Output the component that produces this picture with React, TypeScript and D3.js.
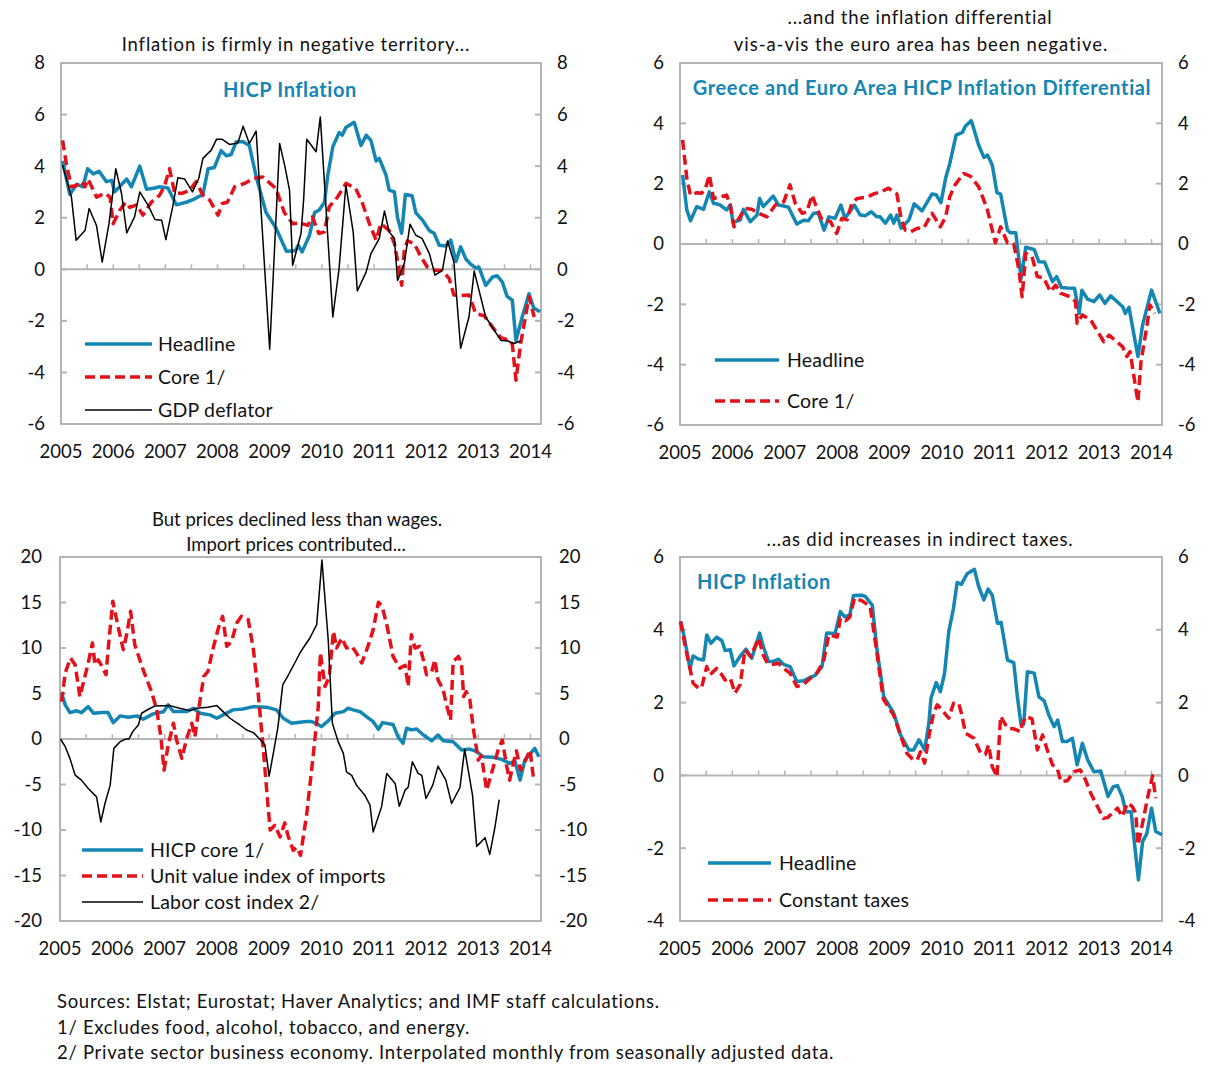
import React from "react";
import * as d3 from "d3";

// ---------- DATA (decimal year, value) ----------
const yearLabels = [2005, 2006, 2007, 2008, 2009, 2010, 2011, 2012, 2013, 2014];

const p1Headline: [number, number][] = [
  [2005.03,4.2],[2005.17,2.9],[2005.3,3.3],[2005.42,3.2],[2005.51,3.9],[2005.62,3.7],[2005.73,3.8],[2005.87,3.4],[2005.97,3.45],[2006.03,3.0],[2006.26,3.5],[2006.35,3.2],[2006.51,4.0],[2006.64,3.1],[2006.8,3.15],[2006.89,3.2],[2007.05,3.15],[2007.21,2.5],[2007.4,2.6],[2007.53,2.7],[2007.72,2.9],[2007.82,3.9],[2007.94,3.95],[2008.07,4.6],[2008.17,4.4],[2008.26,4.45],[2008.36,4.95],[2008.49,4.95],[2008.61,4.8],[2008.74,3.6],[2008.93,2.2],[2009.12,1.6],[2009.32,0.7],[2009.49,0.72],[2009.55,0.93],[2009.62,0.67],[2009.76,1.3],[2009.86,2.2],[2009.95,2.3],[2010.05,2.6],[2010.11,3.6],[2010.21,4.75],[2010.33,5.3],[2010.39,5.2],[2010.46,5.5],[2010.62,5.7],[2010.75,4.8],[2010.85,5.2],[2010.94,5.0],[2011.04,4.2],[2011.1,4.3],[2011.23,3.65],[2011.29,3.07],[2011.39,3.0],[2011.45,2.0],[2011.53,1.4],[2011.6,2.9],[2011.73,2.85],[2011.8,2.2],[2011.93,1.9],[2012.06,1.5],[2012.15,1.4],[2012.25,0.93],[2012.37,0.9],[2012.47,1.13],[2012.57,0.3],[2012.66,0.87],[2012.76,0.4],[2012.85,0.2],[2012.95,0.05],[2013.01,0.08],[2013.14,-0.62],[2013.27,-0.3],[2013.36,-0.25],[2013.46,-0.5],[2013.55,-1.05],[2013.65,-1.2],[2013.72,-2.76],[2013.84,-1.85],[2013.97,-0.95],[2014.06,-1.5],[2014.18,-1.65]
];
const p1Core: [number, number][] = [
  [2005.03,5.0],[2005.11,4.0],[2005.2,3.2],[2005.3,3.25],[2005.4,3.4],[2005.46,3.2],[2005.52,3.5],[2005.68,2.8],[2005.84,2.95],[2005.94,2.8],[2006.0,1.77],[2006.13,2.3],[2006.24,2.6],[2006.32,2.4],[2006.45,2.5],[2006.57,2.1],[2006.73,2.6],[2006.89,2.87],[2006.99,3.26],[2007.08,3.9],[2007.18,2.94],[2007.33,2.95],[2007.47,3.07],[2007.59,3.4],[2007.72,2.87],[2007.85,2.68],[2008.01,2.1],[2008.09,2.55],[2008.19,2.6],[2008.33,3.2],[2008.52,3.33],[2008.68,3.52],[2008.87,3.58],[2009.12,3.13],[2009.28,2.2],[2009.44,1.77],[2009.57,1.8],[2009.73,1.7],[2009.82,2.03],[2009.94,1.39],[2010.05,1.45],[2010.14,2.42],[2010.3,2.8],[2010.46,3.33],[2010.65,3.13],[2010.78,2.55],[2010.91,1.77],[2011.04,1.13],[2011.13,1.77],[2011.29,1.5],[2011.39,1.0],[2011.47,0.1],[2011.53,-0.62],[2011.58,0.74],[2011.64,1.1],[2011.77,1.0],[2011.9,0.48],[2012.02,0.09],[2012.18,-0.04],[2012.31,-0.05],[2012.44,-0.36],[2012.53,-1.0],[2012.67,-1.02],[2012.82,-1.0],[2012.95,-1.72],[2013.11,-1.8],[2013.27,-2.24],[2013.43,-2.65],[2013.59,-2.76],[2013.65,-2.9],[2013.72,-4.3],[2013.81,-2.88],[2013.97,-1.07],[2014.07,-1.85]
];
const p1Deflator: [number, number][] = [
  [2005.03,4.04],[2005.2,2.8],[2005.29,1.13],[2005.46,1.5],[2005.54,2.36],[2005.68,1.7],[2005.79,0.28],[2005.92,1.77],[2006.05,3.9],[2006.16,2.94],[2006.26,1.41],[2006.41,2.03],[2006.51,3.0],[2006.67,2.48],[2006.8,1.93],[2006.93,1.9],[2007.01,1.15],[2007.14,2.42],[2007.24,3.55],[2007.37,3.5],[2007.52,3.0],[2007.64,3.52],[2007.72,4.3],[2007.88,4.62],[2007.98,5.04],[2008.09,5.04],[2008.23,4.84],[2008.39,4.9],[2008.49,5.55],[2008.61,4.88],[2008.74,5.36],[2009.0,-3.1],[2009.19,4.88],[2009.29,4.0],[2009.38,3.07],[2009.44,0.15],[2009.6,1.39],[2009.65,2.68],[2009.71,5.04],[2009.89,4.56],[2009.97,5.91],[2010.21,-1.85],[2010.33,0.03],[2010.46,3.26],[2010.6,1.45],[2010.68,-0.84],[2010.85,-0.1],[2010.94,0.61],[2011.1,1.19],[2011.2,2.26],[2011.29,1.45],[2011.39,1.2],[2011.45,-0.43],[2011.58,0.22],[2011.69,1.75],[2011.8,1.32],[2011.92,1.2],[2012.06,0.61],[2012.17,-0.23],[2012.31,-0.04],[2012.41,1.1],[2012.53,0.28],[2012.66,-3.06],[2012.82,-1.85],[2012.92,-0.07],[2013.14,-1.85],[2013.43,-2.76],[2013.55,-2.77],[2013.68,-2.88],[2013.81,-2.78]
];

const p2Headline: [number, number][] = [
  [2005.05,2.29],[2005.13,1.13],[2005.2,0.77],[2005.32,1.24],[2005.45,1.15],[2005.56,1.73],[2005.64,1.35],[2005.76,1.3],[2005.89,1.13],[2005.96,1.3],[2006.01,0.71],[2006.15,0.8],[2006.21,1.15],[2006.34,0.74],[2006.47,0.96],[2006.52,1.51],[2006.59,1.24],[2006.78,1.59],[2006.88,1.29],[2006.98,1.26],[2007.07,1.22],[2007.23,0.66],[2007.36,0.79],[2007.45,0.77],[2007.55,1.02],[2007.64,1.02],[2007.75,0.46],[2007.84,0.9],[2007.96,0.85],[2008.07,1.29],[2008.15,0.85],[2008.33,1.29],[2008.44,0.96],[2008.54,0.94],[2008.65,1.07],[2008.76,0.9],[2008.82,0.9],[2008.92,0.69],[2009.02,0.96],[2009.08,0.69],[2009.14,0.96],[2009.22,0.52],[2009.37,0.8],[2009.47,1.33],[2009.62,1.1],[2009.81,1.66],[2009.89,1.63],[2009.98,1.37],[2010.07,2.18],[2010.15,2.67],[2010.27,3.61],[2010.39,3.7],[2010.45,3.91],[2010.56,4.09],[2010.7,3.28],[2010.8,2.87],[2010.87,2.95],[2010.96,2.62],[2011.05,1.7],[2011.12,1.65],[2011.25,0.46],[2011.31,0.37],[2011.41,0.37],[2011.51,-1.14],[2011.6,-0.11],[2011.76,-0.18],[2011.85,-0.59],[2011.96,-0.6],[2012.11,-1.25],[2012.19,-1.08],[2012.28,-1.44],[2012.39,-1.46],[2012.53,-1.47],[2012.62,-2.3],[2012.67,-1.53],[2012.78,-1.83],[2012.9,-1.91],[2013.01,-1.69],[2013.11,-1.97],[2013.22,-1.72],[2013.45,-2.08],[2013.5,-2.3],[2013.57,-2.1],[2013.74,-3.73],[2013.83,-2.68],[2014.0,-1.53],[2014.16,-2.3]
];
const p2Core: [number, number][] = [
  [2005.05,3.45],[2005.13,2.18],[2005.2,1.62],[2005.32,1.7],[2005.41,1.68],[2005.48,1.8],[2005.56,2.29],[2005.64,1.51],[2005.76,1.55],[2005.89,1.62],[2005.96,1.3],[2006.03,0.57],[2006.24,1.18],[2006.37,1.15],[2006.5,1.02],[2006.66,0.9],[2006.82,1.29],[2006.98,1.4],[2007.1,1.96],[2007.2,1.35],[2007.33,1.02],[2007.42,1.06],[2007.52,1.62],[2007.61,1.2],[2007.71,0.8],[2007.87,0.75],[2007.99,0.35],[2008.09,0.85],[2008.19,0.8],[2008.28,1.35],[2008.38,1.51],[2008.57,1.55],[2008.7,1.66],[2008.86,1.75],[2008.98,1.85],[2009.14,1.66],[2009.22,0.85],[2009.3,0.46],[2009.4,0.4],[2009.53,0.52],[2009.65,0.52],[2009.81,1.02],[2009.97,0.57],[2010.07,0.9],[2010.15,1.57],[2010.25,1.96],[2010.41,2.34],[2010.54,2.25],[2010.7,1.9],[2010.86,1.18],[2010.96,0.46],[2011.02,0.04],[2011.12,0.57],[2011.25,0.04],[2011.37,0.0],[2011.47,-0.86],[2011.53,-1.75],[2011.6,-0.31],[2011.72,-0.42],[2011.82,-1.08],[2011.94,-1.12],[2012.07,-1.58],[2012.17,-1.36],[2012.26,-1.63],[2012.45,-1.75],[2012.55,-1.91],[2012.58,-2.63],[2012.68,-2.35],[2012.84,-2.52],[2013.09,-3.24],[2013.19,-3.02],[2013.45,-3.41],[2013.53,-3.73],[2013.59,-3.57],[2013.74,-5.23],[2013.8,-3.9],[2013.91,-2.74],[2013.97,-2.02],[2014.06,-2.3]
];

const p3CoreHicp: [number, number][] = [
  [2005.03,5.04],[2005.1,3.75],[2005.19,2.9],[2005.32,3.1],[2005.41,2.9],[2005.54,3.56],[2005.64,2.83],[2005.8,2.9],[2005.92,2.9],[2006.02,1.8],[2006.15,2.54],[2006.31,2.4],[2006.47,2.54],[2006.59,2.17],[2006.78,2.76],[2006.98,3.0],[2007.07,3.75],[2007.17,3.01],[2007.42,3.01],[2007.55,3.38],[2007.68,2.83],[2007.87,2.65],[2008.0,2.28],[2008.12,2.65],[2008.31,3.2],[2008.5,3.3],[2008.7,3.56],[2008.95,3.5],[2009.14,3.2],[2009.27,2.28],[2009.43,1.73],[2009.59,1.85],[2009.72,1.91],[2009.81,1.91],[2009.91,1.7],[2010.0,1.36],[2010.13,2.0],[2010.26,2.83],[2010.42,3.01],[2010.51,3.38],[2010.61,3.2],[2010.74,3.0],[2010.86,2.46],[2010.99,1.9],[2011.09,1.07],[2011.17,1.8],[2011.37,1.6],[2011.47,0.19],[2011.56,-0.47],[2011.63,1.18],[2011.72,1.0],[2011.82,1.1],[2011.95,0.44],[2012.11,-0.19],[2012.23,0.44],[2012.33,-0.19],[2012.52,-0.29],[2012.68,-1.21],[2012.84,-1.1],[2012.97,-1.4],[2013.09,-1.95],[2013.28,-2.0],[2013.45,-2.24],[2013.6,-2.68],[2013.7,-2.4],[2013.8,-4.52],[2013.89,-2.32],[2013.95,-1.9],[2014.08,-1.03],[2014.16,-1.95]
];
const p3Imports: [number, number][] = [
  [2005.03,4.11],[2005.1,7.24],[2005.2,8.9],[2005.29,8.16],[2005.38,4.66],[2005.48,6.95],[2005.54,8.35],[2005.62,10.55],[2005.67,8.16],[2005.73,8.7],[2005.8,8.0],[2005.88,7.06],[2005.92,9.81],[2006.01,15.14],[2006.11,12.38],[2006.21,9.81],[2006.28,11.6],[2006.35,14.03],[2006.43,10.36],[2006.59,7.61],[2006.75,5.22],[2006.85,3.2],[2006.93,0.25],[2006.99,-3.42],[2007.07,-0.66],[2007.17,1.73],[2007.23,-0.11],[2007.33,-2.13],[2007.42,0.0],[2007.52,1.73],[2007.58,0.25],[2007.66,3.56],[2007.75,6.87],[2007.83,7.42],[2007.93,10.0],[2008.03,12.2],[2008.11,13.48],[2008.19,10.18],[2008.28,10.7],[2008.38,12.75],[2008.47,13.48],[2008.6,13.12],[2008.7,9.81],[2008.79,5.04],[2008.89,-1.21],[2008.98,-7.46],[2009.02,-10.0],[2009.11,-9.48],[2009.21,-10.77],[2009.3,-9.22],[2009.36,-10.6],[2009.46,-12.24],[2009.53,-11.9],[2009.6,-12.79],[2009.72,-8.2],[2009.84,-1.95],[2009.94,3.56],[2009.98,9.45],[2010.07,5.77],[2010.15,6.87],[2010.23,11.83],[2010.29,10.0],[2010.39,11.1],[2010.48,10.0],[2010.58,10.2],[2010.67,9.45],[2010.77,8.35],[2010.89,10.18],[2010.99,12.02],[2011.09,15.03],[2011.16,14.6],[2011.25,12.57],[2011.37,9.07],[2011.5,7.79],[2011.6,8.1],[2011.66,5.77],[2011.72,11.47],[2011.79,10.0],[2011.88,10.18],[2011.95,8.7],[2012.01,7.06],[2012.11,7.4],[2012.17,8.71],[2012.23,6.5],[2012.33,5.4],[2012.39,3.8],[2012.47,2.09],[2012.52,8.52],[2012.62,9.07],[2012.68,8.3],[2012.72,4.66],[2012.77,5.2],[2012.84,4.3],[2012.9,1.36],[2013.0,-2.32],[2013.06,-1.8],[2013.16,-5.62],[2013.28,-3.23],[2013.38,-1.21],[2013.46,-0.11],[2013.54,-2.87],[2013.6,-4.52],[2013.7,-1.95],[2013.73,-1.3],[2013.81,-3.42],[2013.89,-2.5],[2013.99,-1.21],[2014.06,-4.52]
];
const p3LaborCost: [number, number][] = [
  [2005.01,0],[2005.1,-0.85],[2005.19,-2.13],[2005.29,-3.97],[2005.41,-4.52],[2005.54,-5.44],[2005.7,-6.36],[2005.78,-9.12],[2005.86,-7.09],[2005.96,-5.07],[2006.03,-1.03],[2006.15,-0.29],[2006.26,0],[2006.32,0],[2006.39,0.81],[2006.5,1.54],[2006.56,2.83],[2006.69,3.27],[2006.82,3.64],[2007.1,3.67],[2007.29,3.38],[2007.49,3.12],[2007.61,3.38],[2007.83,3.5],[2008.0,3.67],[2008.12,3.01],[2008.25,2.28],[2008.44,1.54],[2008.57,0.99],[2008.7,0.7],[2008.82,0],[2008.92,-0.66],[2009.0,-4.08],[2009.08,-1.58],[2009.17,1.36],[2009.26,5.95],[2009.37,7.06],[2009.49,8.35],[2009.59,9.45],[2009.65,10.0],[2009.78,11.1],[2009.91,12.57],[2010.01,19.66],[2010.13,10.9],[2010.21,1.73],[2010.32,-0.29],[2010.42,-1.58],[2010.48,-3.6],[2010.58,-4.0],[2010.67,-5.07],[2010.83,-6.17],[2010.93,-7.28],[2010.99,-10.22],[2011.15,-7.46],[2011.25,-3.78],[2011.41,-4.88],[2011.49,-7.39],[2011.6,-5.62],[2011.66,-5.3],[2011.74,-2.5],[2011.85,-3.78],[2011.92,-4.0],[2012.0,-6.54],[2012.13,-5.07],[2012.23,-2.98],[2012.38,-4.52],[2012.49,-7.09],[2012.65,-5.33],[2012.74,-1.14],[2012.89,-6.17],[2012.97,-11.8],[2013.13,-10.84],[2013.22,-12.68],[2013.32,-9.67],[2013.4,-6.65]
];

const p4Headline: [number, number][] = [
  [2005.01,4.23],[2005.08,3.81],[2005.19,2.94],[2005.25,3.28],[2005.35,3.2],[2005.45,3.17],[2005.51,3.86],[2005.59,3.63],[2005.7,3.8],[2005.8,3.7],[2005.86,3.43],[2005.96,3.45],[2006.03,3.01],[2006.15,3.28],[2006.26,3.47],[2006.37,3.22],[2006.52,3.91],[2006.59,3.54],[2006.69,3.13],[2006.78,3.13],[2006.88,3.19],[2006.98,3.05],[2007.1,2.99],[2007.23,2.58],[2007.36,2.6],[2007.45,2.67],[2007.58,2.75],[2007.71,2.99],[2007.8,3.91],[2007.96,3.9],[2008.06,4.5],[2008.14,4.36],[2008.24,4.4],[2008.31,4.94],[2008.47,4.95],[2008.54,4.91],[2008.67,4.68],[2008.76,3.45],[2008.89,2.16],[2009.08,1.71],[2009.21,1.11],[2009.37,0.7],[2009.46,0.7],[2009.56,0.98],[2009.67,0.7],[2009.75,1.43],[2009.79,2.12],[2009.89,2.55],[2009.97,2.3],[2010.05,2.81],[2010.13,3.95],[2010.22,4.59],[2010.29,5.3],[2010.37,5.25],[2010.48,5.54],[2010.62,5.66],[2010.7,5.19],[2010.8,4.82],[2010.88,5.12],[2010.96,4.95],[2011.06,4.18],[2011.13,4.2],[2011.25,3.17],[2011.37,3.1],[2011.44,2.16],[2011.51,1.39],[2011.56,1.4],[2011.63,2.85],[2011.76,2.81],[2011.85,2.16],[2011.95,2.05],[2012.04,1.66],[2012.14,1.34],[2012.21,1.52],[2012.3,0.93],[2012.39,0.93],[2012.49,1.02],[2012.58,0.29],[2012.68,0.88],[2012.78,0.43],[2012.9,0.1],[2013.03,0.12],[2013.17,-0.58],[2013.27,-0.31],[2013.35,-0.28],[2013.44,-0.58],[2013.51,-1.0],[2013.61,-1.0],[2013.75,-2.87],[2013.83,-1.82],[2013.91,-1.6],[2014.0,-0.9],[2014.08,-1.54],[2014.2,-1.63]
];
const p4ConstantTaxes: [number, number][] = [
  [2005.01,4.23],[2005.1,3.54],[2005.19,2.94],[2005.25,2.53],[2005.35,2.4],[2005.41,2.4],[2005.51,2.99],[2005.57,2.76],[2005.7,2.94],[2005.8,2.76],[2005.86,2.62],[2005.96,2.67],[2006.05,2.26],[2006.15,2.5],[2006.24,3.45],[2006.35,3.26],[2006.5,3.77],[2006.59,3.3],[2006.67,3.08],[2006.78,3.05],[2006.88,3.08],[2006.98,2.94],[2007.1,2.81],[2007.23,2.44],[2007.36,2.5],[2007.49,2.67],[2007.61,2.81],[2007.74,3.13],[2007.84,3.86],[2008.0,3.8],[2008.06,4.32],[2008.16,4.25],[2008.24,4.35],[2008.33,4.87],[2008.47,4.8],[2008.63,4.64],[2008.75,3.45],[2008.88,2.1],[2009.08,1.65],[2009.21,1.1],[2009.33,0.61],[2009.45,0.43],[2009.53,0.43],[2009.59,0.65],[2009.67,0.34],[2009.75,1.07],[2009.84,1.71],[2009.91,1.94],[2010.0,1.8],[2010.13,1.57],[2010.22,1.98],[2010.32,1.98],[2010.37,1.71],[2010.45,1.16],[2010.61,1.02],[2010.74,0.61],[2010.83,0.58],[2010.89,0.84],[2010.96,0.24],[2011.05,-0.03],[2011.12,1.62],[2011.25,1.3],[2011.37,1.28],[2011.5,1.2],[2011.53,1.4],[2011.6,1.62],[2011.72,1.55],[2011.82,0.7],[2011.92,1.11],[2012.01,0.7],[2012.11,0.29],[2012.2,0.2],[2012.27,-0.17],[2012.39,-0.15],[2012.52,0.1],[2012.64,0.15],[2012.74,-0.12],[2012.84,-0.49],[2012.97,-0.86],[2013.08,-1.18],[2013.16,-1.16],[2013.25,-1.04],[2013.35,-0.9],[2013.44,-1.13],[2013.54,-0.76],[2013.63,-0.85],[2013.7,-1.04],[2013.74,-1.91],[2013.81,-1.45],[2013.93,-0.58],[2014.02,-0.01],[2014.08,-0.63]
];

const p1Ticks = [-6, -4, -2, 0, 2, 4, 6, 8];
const p2Ticks = [-6, -4, -2, 0, 2, 4, 6];
const p3Ticks = [-20, -15, -10, -5, 0, 5, 10, 15, 20];
const p4Ticks = [-4, -2, 0, 2, 4, 6];

const footnotes = [
  "Sources: Elstat; Eurostat; Haver Analytics; and IMF staff calculations.",
  "1/ Excludes food, alcohol, tobacco, and energy.",
  "2/ Private sector business economy. Interpolated monthly from seasonally adjusted data.",
];

// ---------- STYLE ----------
const BLUE = "#1486b3";
const RED = "#e4111b";
const BLACK = "#000000";
const GRID = "#b4b4b4";
const FONT = "Lato, 'Open Sans', sans-serif";
const FS_TICK = 18.5;
const FS_TITLE = 18.5;
const FS_LEGEND = 19.5;
const LS_LEGEND = 0.2;
const FS_INNER = 20;
const LS_INNER = 0.6;

type Series = { name: string; data: [number, number][]; color: string; width: number; dash?: string };
type PanelCfg = {
  x0: number; x1: number; y0: number; y1: number;
  yDomain: [number, number]; ticks: number[]; labelGap: number;
  titles: { text: string; x: number; y: number; ls: number }[];
  inner?: { text: string; x: number; y: number; anchor: string };
  series: Series[];
  legend: { lx0: number; lx1: number; tx: number; ys: number[] };
};

const X_END = 2014.2;

function Panel({ cfg }: { cfg: PanelCfg }) {
  const x = d3.scaleLinear().domain([2005, X_END]).range([cfg.x0, cfg.x1]);
  const y = d3.scaleLinear().domain(cfg.yDomain).range([cfg.y1, cfg.y0]);
  const line = d3.line<[number, number]>().x((d) => x(d[0])).y((d) => y(d[1]));
  const halfYears = d3.range(2005.5, 2014.01, 0.5);
  const y0v = y(0);
  return (
    <g>
      {cfg.titles.map((t, i) => (
        <text key={i} x={t.x} y={t.y} textAnchor="middle" fontSize={FS_TITLE} letterSpacing={t.ls} fontFamily={FONT} fill="#111">{t.text}</text>
      ))}
      <rect x={cfg.x0} y={cfg.y0} width={cfg.x1 - cfg.x0} height={cfg.y1 - cfg.y0} fill="white" stroke={GRID} strokeWidth={2} />
      {cfg.ticks.map((t) => (
        <g key={t}>
          <line x1={cfg.x0} x2={cfg.x0 + 6} y1={y(t)} y2={y(t)} stroke={GRID} strokeWidth={2} />
          <line x1={cfg.x1 - 6} x2={cfg.x1} y1={y(t)} y2={y(t)} stroke={GRID} strokeWidth={2} />
          <text x={cfg.x0 - cfg.labelGap} y={y(t)} dy="0.35em" textAnchor="end" fontSize={FS_TICK} fontFamily={FONT} fill="#111">{t}</text>
          <text x={cfg.x1 + cfg.labelGap} y={y(t)} dy="0.35em" textAnchor="start" fontSize={FS_TICK} fontFamily={FONT} fill="#111">{t}</text>
        </g>
      ))}
      <line x1={cfg.x0} x2={cfg.x1} y1={y0v} y2={y0v} stroke={GRID} strokeWidth={2} />
      {halfYears.map((h) => (
        <line key={h} x1={x(h)} x2={x(h)} y1={y0v} y2={y0v - 5} stroke={GRID} strokeWidth={1.5} />
      ))}
      {yearLabels.map((yr) => (
        <text key={yr} x={x(yr)} y={cfg.y1 + 34} textAnchor="middle" fontSize={FS_TICK} fontFamily={FONT} fill="#111">{yr}</text>
      ))}
      {cfg.inner && (
        <text x={cfg.inner.x} y={cfg.inner.y} dy="0.35em" textAnchor={cfg.inner.anchor as any} fontSize={FS_INNER} letterSpacing={LS_INNER} fontWeight="bold" fontFamily={FONT} fill={BLUE}>{cfg.inner.text}</text>
      )}
      {cfg.series.map((s) => (
        <path key={s.name} d={line(s.data) || ""} fill="none" stroke={s.color} strokeWidth={s.width} strokeDasharray={s.dash} strokeLinejoin="round" />
      ))}
      {cfg.series.map((s, i) => (
        <g key={"lg" + s.name}>
          <line x1={cfg.legend.lx0} x2={cfg.legend.lx1} y1={cfg.legend.ys[i]} y2={cfg.legend.ys[i]} stroke={s.color} strokeWidth={s.width} strokeDasharray={s.dash} />
          <text x={cfg.legend.tx} y={cfg.legend.ys[i]} dy="0.35em" fontSize={FS_LEGEND} letterSpacing={LS_LEGEND} fontFamily={FONT} fill="#111">{s.name}</text>
        </g>
      ))}
    </g>
  );
}

const DASH = "10 5";

const panels: PanelCfg[] = [
  {
    x0: 61, x1: 541, y0: 63, y1: 424, yDomain: [-6, 8], ticks: p1Ticks, labelGap: 16,
    titles: [{ text: "Inflation is firmly in negative territory...", x: 296, y: 51, ls: 0.8 }],
    inner: { text: "HICP Inflation", x: 290, y: 90, anchor: "middle" },
    series: [
      { name: "Headline", data: p1Headline, color: BLUE, width: 3.5 },
      { name: "Core 1/", data: p1Core, color: RED, width: 3.5, dash: DASH },
      { name: "GDP deflator", data: p1Deflator, color: BLACK, width: 1.5 },
    ],
    legend: { lx0: 85, lx1: 152, tx: 158, ys: [344, 377, 410] },
  },
  {
    x0: 680, x1: 1162, y0: 63, y1: 425, yDomain: [-6, 6], ticks: p2Ticks, labelGap: 16,
    titles: [
      { text: "...and the inflation differential", x: 920, y: 24, ls: 0.8 },
      { text: "vis-a-vis the euro area has been negative.", x: 921, y: 51, ls: 0.95 },
    ],
    inner: { text: "Greece and Euro Area HICP Inflation Differential", x: 922, y: 88, anchor: "middle" },
    series: [
      { name: "Headline", data: p2Headline, color: BLUE, width: 3.5 },
      { name: "Core 1/", data: p2Core, color: RED, width: 3.5, dash: DASH },
    ],
    legend: { lx0: 715, lx1: 779, tx: 787, ys: [360, 401] },
  },
  {
    x0: 60, x1: 541, y0: 557, y1: 921, yDomain: [-20, 20], ticks: p3Ticks, labelGap: 18,
    titles: [
      { text: "But prices declined less than wages.", x: 297, y: 526, ls: 0 },
      { text: "Import prices contributed...", x: 296, y: 551, ls: 0 },
    ],
    series: [
      { name: "HICP core 1/", data: p3CoreHicp, color: BLUE, width: 3.5 },
      { name: "Unit value index of imports", data: p3Imports, color: RED, width: 3.5, dash: DASH },
      { name: "Labor cost index 2/", data: p3LaborCost, color: BLACK, width: 1.5 },
    ],
    legend: { lx0: 82, lx1: 143, tx: 150, ys: [850, 876, 902] },
  },
  {
    x0: 680, x1: 1162, y0: 557, y1: 921, yDomain: [-4, 6], ticks: p4Ticks, labelGap: 16,
    titles: [{ text: "...as did increases in indirect taxes.", x: 920, y: 546, ls: 0.8 }],
    inner: { text: "HICP Inflation", x: 697, y: 582, anchor: "start" },
    series: [
      { name: "Headline", data: p4Headline, color: BLUE, width: 3.5 },
      { name: "Constant taxes", data: p4ConstantTaxes, color: RED, width: 3.5, dash: DASH },
    ],
    legend: { lx0: 708, lx1: 771, tx: 779, ys: [863, 900] },
  },
];

export default function App() {
  return (
    <svg width={1228} height={1082} style={{ position: "absolute", left: 0, top: 0, background: "white" }}>
      <rect width={1228} height={1082} fill="white" />
      {panels.map((p, i) => (
        <Panel key={i} cfg={p} />
      ))}
      {footnotes.map((f, i) => (
        <text key={i} x={57} y={1002 + i * 25.5} dy="0.35em" fontSize={FS_TITLE} letterSpacing={0.7} fontFamily={FONT} fill="#111">{f}</text>
      ))}
    </svg>
  );
}
